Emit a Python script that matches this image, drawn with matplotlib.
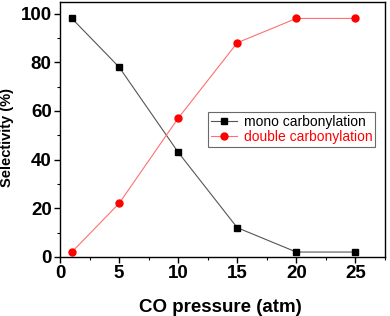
import matplotlib.pyplot as plt
from matplotlib.ticker import MultipleLocator

pressure = [1, 5, 10, 15, 20, 25]
mono = [98, 78, 43, 12, 2, 2]
double = [2, 22, 57, 88, 98, 98]

plt.rcParams['font.family'] = ['Liberation Sans', 'DejaVu Sans']

fig = plt.figure(figsize=(3.9, 3.16), dpi=100)
ax = fig.add_axes([0.154, 0.187, 0.833, 0.807])

ax.plot(pressure, mono, color='#555555', lw=0.8, marker='s', ms=4,
        mfc='black', mec='black', label='mono carbonylation')
ax.plot(pressure, double, color='#ff7070', lw=0.8, marker='o', ms=5,
        mfc='red', mec='red', label='double carbonylation')

ax.set_xlim(0, 27.5)
ax.set_ylim(0, 104.8)
ax.xaxis.set_major_locator(MultipleLocator(5))
ax.xaxis.set_minor_locator(MultipleLocator(2.5))
ax.yaxis.set_major_locator(MultipleLocator(20))
ax.yaxis.set_minor_locator(MultipleLocator(10))
ax.tick_params(which='both', direction='out', top=False, right=False)
ax.tick_params(which='major', length=4, width=1, labelsize=13.5, pad=2)
ax.tick_params(which='minor', length=2.5, width=0.8)
for lab in ax.get_xticklabels() + ax.get_yticklabels():
    lab.set_fontweight('bold')
for s in ax.spines.values():
    s.set_linewidth(1.0)

ax.set_xlabel('CO pressure (atm)', fontsize=13.5, fontweight='bold')
ax.set_ylabel('Selectivity (%)', fontsize=10.5, fontweight='bold')
ax.xaxis.set_label_coords(0.495, -0.165)
ax.yaxis.set_label_coords(-0.142, 0.47)

leg = ax.legend(loc='upper left', bbox_to_anchor=(0.455, 0.569), fontsize=10,
                frameon=True, fancybox=False, edgecolor='#444444',
                handlelength=1.9, borderpad=0.2, labelspacing=0.1,
                handletextpad=0.5, borderaxespad=0)
leg.get_frame().set_linewidth(0.8)
leg.get_texts()[1].set_color('red')

fig.savefig('out.png', dpi=100)
